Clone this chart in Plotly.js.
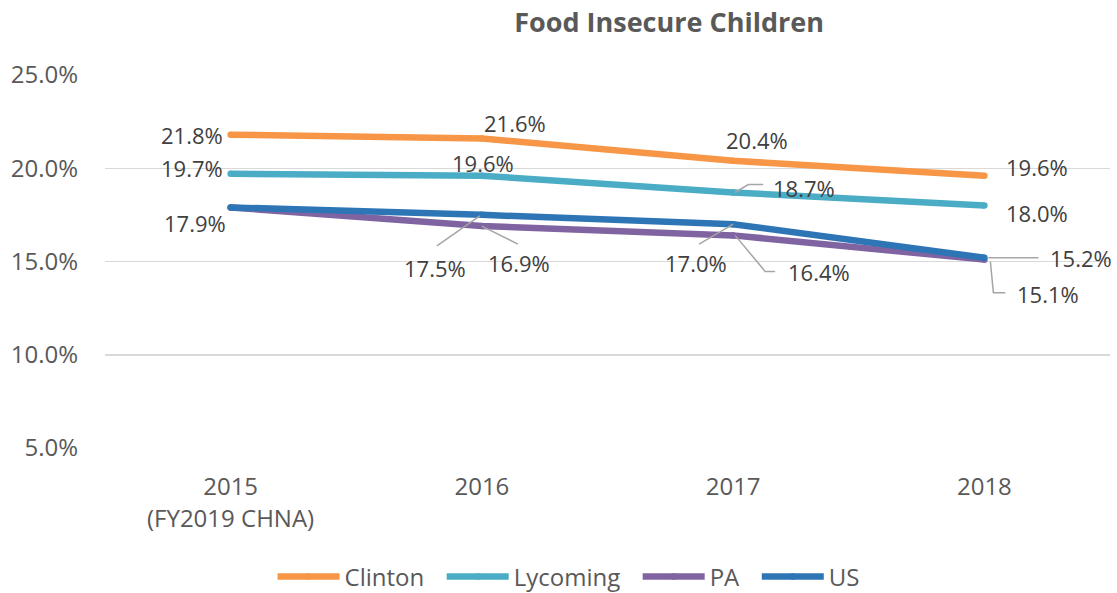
<!DOCTYPE html>
<html>
<head>
<meta charset="utf-8">
<script src="https://cdn.plot.ly/plotly-3.0.1.min.js"></script>
<style>
  html, body { margin: 0; padding: 0; background: #fff; }
  #chart { width: 1117px; height: 593px; }
</style>
</head>
<body>
<div id="chart"></div>
<script>
// Share of children living in food-insecure households, by area
const years = ['2015', '2016', '2017', '2018'];
const yearLabels = ['2015', '2016', '2017', '2018'];
const yearNote = '(FY2019 CHNA)';
const clinton = [21.8, 21.6, 20.4, 19.6];
const lycoming = [19.7, 19.6, 18.7, 18.0];
const pa = [17.9, 16.9, 16.4, 15.1];
const us = [17.9, 17.5, 17.0, 15.2];
const yTicks = [5, 10, 15, 20, 25];

const FONT = '"Open Sans", "Noto Sans", sans-serif';
const TXT = '#595959';
const LBL = '#404040';
const LEADER = '#A6A6A6';
const GAP = '\u00a0\u00a0';

const series = [
  { name: 'Clinton', values: clinton, color: '#F79646' },
  { name: 'Lycoming', values: lycoming, color: '#4BACC6' },
  { name: 'PA', values: pa, color: '#8064A2' },
  { name: 'US', values: us, color: '#2E75B6' }
];

const traces = series.map((s, i) => ({
  type: 'scatter',
  mode: 'lines+markers',
  // extra spacing between legend entries
  name: i < series.length - 1 ? s.name + GAP : s.name,
  x: years,
  y: s.values,
  line: { color: s.color, width: 6.5 },
  marker: { color: s.color, size: 6.5, line: { width: 0 } },
  hoverinfo: 'skip'
}));

// Label placement per point: [series, year index, xanchor, xshift, yshift, leader path (px, y up) or null]
const labelSpec = [
  [0, 0, 'right', -6, 0, null],
  [0, 1, 'left', 0, 15, null],
  [0, 2, 'center', 24, 21, null],
  [0, 3, 'left', 20, 9, null],
  [1, 0, 'right', -6, 6, null],
  [1, 1, 'center', 1, 13, null],
  [1, 2, 'left', 38, 5, 'M2,0L15,8L30,8'],
  [1, 3, 'left', 20, -7, null],
  [2, 0, 'right', -3, -16, null],
  [2, 1, 'left', 4, -37, 'M0,0L36,-18'],
  [2, 2, 'left', 53, -37, 'M2,0L32,-36L42,-36'],
  [2, 3, 'left', 31, -34, 'M6,-2L9,-33L21,-33'],
  [3, 1, 'right', -14, -53, 'M-2,-1L-45,-31'],
  [3, 2, 'right', -4, -39, 'M0,0L-34,-20'],
  [3, 3, 'left', 64, 0, 'M4,0L54,0']
];

const annotations = [];
const shapes = [];
labelSpec.forEach(([si, yi, anchor, dx, dy, path]) => {
  const v = series[si].values[yi];
  annotations.push({
    x: yi, y: v, xref: 'x', yref: 'y',
    text: v.toFixed(1) + '%',
    showarrow: false,
    xanchor: anchor, yanchor: 'middle',
    xshift: dx, yshift: dy,
    font: { family: FONT, size: 22, color: LBL }
  });
  if (path) {
    shapes.push({
      type: 'path', layer: 'above',
      xref: 'x', yref: 'y',
      xsizemode: 'pixel', ysizemode: 'pixel',
      xanchor: yi, yanchor: v,
      path: path,
      line: { color: LEADER, width: 1.5 }
    });
  }
});

// second line of the first category label
annotations.push({
  x: 0, y: 0, xref: 'x', yref: 'paper',
  text: yearNote, showarrow: false,
  xanchor: 'center', yanchor: 'middle', yshift: -69,
  font: { family: FONT, size: 24, color: TXT }
});

const layout = {
  width: 1117, height: 593,
  margin: { l: 105, r: 7, t: 75, b: 145 },
  paper_bgcolor: '#ffffff', plot_bgcolor: '#ffffff',
  font: { family: FONT, color: TXT },
  title: {
    text: '<b>Food Insecure Children</b>',
    x: 0.599, xref: 'container', xanchor: 'center',
    y: 0.962, yref: 'container', yanchor: 'middle',
    font: { family: FONT, size: 27, color: TXT }
  },
  xaxis: {
    type: 'category',
    range: [-0.5, 3.5],
    tickmode: 'array',
    tickvals: years, ticktext: yearLabels,
    showgrid: false, zeroline: false,
    showline: false, ticks: '',
    ticklabelstandoff: 22,
    tickfont: { family: FONT, size: 24, color: TXT }
  },
  yaxis: {
    range: [5, 25],
    tickmode: 'array',
    tickvals: yTicks,
    ticktext: yTicks.map(v => v.toFixed(1) + '%'),
    showgrid: true, gridcolor: '#D9D9D9', gridwidth: 1.5,
    zeroline: false, showline: false, ticks: '',
    ticklabelstandoff: 26,
    tickfont: { family: FONT, size: 24, color: TXT }
  },
  showlegend: true,
  legend: {
    orientation: 'h',
    xref: 'container', yref: 'container',
    x: 0.509, xanchor: 'center',
    y: 0.027, yanchor: 'middle',
    font: { family: FONT, size: 24, color: TXT },
    itemwidth: 62,
    traceorder: 'normal'
  },
  annotations: annotations,
  shapes: shapes
};

Plotly.newPlot('chart', traces, layout, { displayModeBar: false, staticPlot: true });
</script>
</body>
</html>
